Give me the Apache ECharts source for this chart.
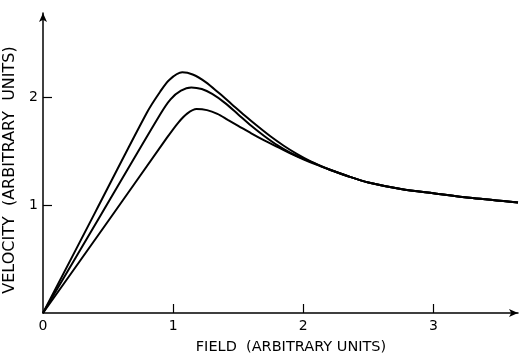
<!DOCTYPE html>
<html>
<head>
<meta charset="utf-8">
<script src="https://cdn.jsdelivr.net/npm/echarts@6/dist/echarts.min.js"></script>
<style>
  html, body { margin: 0; padding: 0; background: #fff; }
  #chart { width: 521px; height: 356px; }
</style>
</head>
<body>
<div id="chart"></div>
<script>
// values: [field, velocity]
const upperCurve = [
  [0, 0], [0.4, 0.93], [0.8, 1.86], [0.9, 2.05], [0.97, 2.16], [1.07, 2.23],
  [1.15, 2.21], [1.25, 2.14], [1.35, 2.04], [1.45, 1.935], [1.55, 1.83],
  [1.65, 1.73], [1.75, 1.635], [1.85, 1.55], [1.95, 1.475], [2.05, 1.41],
  [2.2, 1.33], [2.35, 1.265], [2.5, 1.21], [2.75, 1.15], [3.0, 1.11],
  [3.3, 1.065], [3.65, 1.025]
];
const middleCurve = [
  [0, 0], [0.45, 0.92], [0.9, 1.84], [0.98, 1.98], [1.06, 2.06], [1.14, 2.09],
  [1.22, 2.075], [1.3, 2.03], [1.4, 1.945], [1.5, 1.84], [1.6, 1.735],
  [1.7, 1.64], [1.8, 1.555], [1.9, 1.485], [2.0, 1.43], [2.1, 1.38], [2.2, 1.33],
  [2.35, 1.265], [2.5, 1.21], [2.75, 1.15], [3.0, 1.11], [3.3, 1.065],
  [3.65, 1.025]
];
const lowerCurve = [
  [0, 0], [0.5, 0.85], [0.95, 1.62], [1.04, 1.765], [1.11, 1.85], [1.18, 1.89],
  [1.26, 1.88], [1.34, 1.845], [1.42, 1.79], [1.5, 1.735], [1.6, 1.665],
  [1.7, 1.6], [1.8, 1.54], [1.9, 1.48], [2.0, 1.425], [2.1, 1.375], [2.2, 1.33],
  [2.35, 1.265], [2.5, 1.21], [2.75, 1.15], [3.0, 1.11], [3.3, 1.065],
  [3.65, 1.025]
];
const xTickValues = [1, 2, 3];
const xLabelValues = [0, 1, 2, 3];
const yTickValues = [1, 2];
const xTitle = 'FIELD  (ARBITRARY UNITS)';
const yTitle = 'VELOCITY  (ARBITRARY  UNITS)';

const chart = echarts.init(document.getElementById('chart'), null, { renderer: 'canvas' });
const font = 'DejaVu Sans';

function curve(data) {
  return {
    type: 'line',
    data: data,
    smooth: 0.3,
    showSymbol: false,
    lineStyle: { color: '#000', width: 2 }
  };
}

chart.setOption({
  animation: false,
  grid: { left: 43, right: 3, top: 13, bottom: 43, containLabel: false, outerBoundsMode: 'none' },
  xAxis: {
    type: 'value', min: 0, max: 3.65,
    name: xTitle, nameLocation: 'middle', nameGap: 27,
    nameTextStyle: { fontFamily: font, fontSize: 14.5, color: '#000', padding: [0, 0, 0, 21] },
    axisLine: { lineStyle: { color: '#000', width: 1.5 }, symbol: ['none', 'arrow'], symbolSize: [6, 9] },
    axisTick: { inside: true, length: 9, customValues: xTickValues, lineStyle: { color: '#000', width: 1.2 } },
    axisLabel: { customValues: xLabelValues, margin: 6, fontFamily: font, fontSize: 14, color: '#000' },
    splitLine: { show: false }
  },
  yAxis: {
    type: 'value', min: 0, max: 2.78,
    name: yTitle, nameLocation: 'middle', nameGap: 17, nameRotate: 90,
    nameTextStyle: { fontFamily: font, fontSize: 16, color: '#000', padding: [0, 14, 0, 0] },
    axisLine: { lineStyle: { color: '#000', width: 1.5 }, symbol: ['none', 'arrow'], symbolSize: [6, 9] },
    axisTick: { inside: true, length: 9, customValues: yTickValues, lineStyle: { color: '#000', width: 1.2 } },
    axisLabel: { customValues: yTickValues, margin: 5, fontFamily: font, fontSize: 14, color: '#000' },
    splitLine: { show: false }
  },
  series: [curve(upperCurve), curve(middleCurve), curve(lowerCurve)]
});
</script>
</body>
</html>
